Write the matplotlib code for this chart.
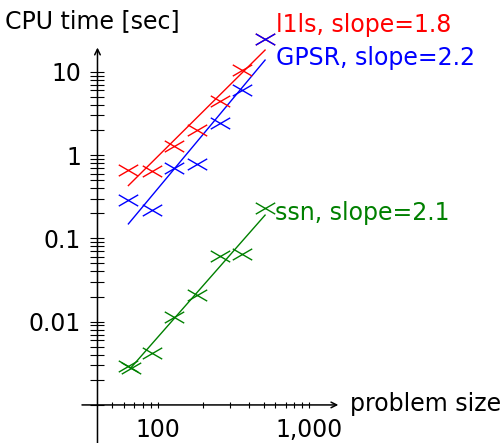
import matplotlib
matplotlib.use("Agg")
import matplotlib.pyplot as plt
import numpy as np
from matplotlib.path import Path
from matplotlib.ticker import FixedLocator, FixedFormatter, NullFormatter

sizes = [64, 91, 128, 181, 256, 362, 512]
l1ls_time = [0.67, 0.65, 1.29, 2.0, 4.4, 10.5, 25.0]
gpsr_time = [0.29, 0.22, 0.69, 0.78, 2.44, 6.0, 25.0]
ssn_sizes = [64, 67, 91, 128, 181, 256, 362, 512]
ssn_time = [0.0029, 0.0028, 0.0042, 0.0115, 0.021, 0.061, 0.064, 0.23]

# fitted power laws (end points of the fit lines)
fit_x = [64, 512]
l1ls_fit = [0.43, 18.2]
gpsr_fit = [0.149, 13.8]
ssn_fit_x = [66, 512]
ssn_fit = [0.00275, 0.19]

labels = ["l1ls, slope=1.8", "GPSR, slope=2.2", "ssn, slope=2.1"]
colors = ["#ff0000", "#0000ff", "#008000"]

x_major = [100, 1000]
x_major_labels = ["100", "1,000"]
x_minor = [50, 60, 70, 80, 90, 200, 300, 400, 500, 600, 700, 800, 900]
y_major = [1e-3, 1e-2, 1e-1, 1, 10]
y_major_labels = ["", "0.01", "0.1", "1", "10"]
y_minor = [m * d for d in [1e-3, 1e-2, 1e-1, 1] for m in range(2, 10)]

plt.rcParams["font.family"] = ["DejaVu Sans"]
FS = 17

# flattened "x" marker like the pgfplots one
xmark = Path([(-1, -0.58), (1, 0.58), (-1, 0.58), (1, -0.58)],
             [Path.MOVETO, Path.LINETO, Path.MOVETO, Path.LINETO])

fig = plt.figure(figsize=(5.01, 4.43), dpi=100)
ax = fig.add_axes([0, 0, 1, 1])
ax.set_xscale("log")
ax.set_yscale("log")
ax.set_xlim(10 ** 0.958, 10 ** 4.268)
ax.set_ylim(10 ** -3.457, 10 ** 1.861)
ax.patch.set_visible(False)

# axis lines through (40, 0.001)
for s in ["top", "right"]:
    ax.spines[s].set_visible(False)
ax.spines["left"].set_position(("data", 40))
ax.spines["bottom"].set_position(("data", 1e-3))
ax.spines["left"].set_color("none")
ax.spines["bottom"].set_color("none")

ax.annotate("", xy=(1560, 1e-3), xytext=(31.6, 1e-3),
            arrowprops=dict(arrowstyle="->", lw=1.1, color="black",
                            shrinkA=0, shrinkB=0, mutation_scale=10))
ax.annotate("", xy=(40, 19.5), xytext=(40, 10 ** -3.457),
            arrowprops=dict(arrowstyle="->", lw=1.1, color="black",
                            shrinkA=0, shrinkB=0, mutation_scale=10))

ax.xaxis.set_major_locator(FixedLocator(x_major))
ax.xaxis.set_major_formatter(FixedFormatter(x_major_labels))
ax.xaxis.set_minor_locator(FixedLocator(x_minor))
ax.xaxis.set_minor_formatter(NullFormatter())
ax.yaxis.set_major_locator(FixedLocator(y_major))
ax.yaxis.set_major_formatter(FixedFormatter(y_major_labels))
ax.yaxis.set_minor_locator(FixedLocator(y_minor))
ax.yaxis.set_minor_formatter(NullFormatter())

ax.tick_params(axis="x", which="both", direction="inout", length=5,
               width=0.8, labelsize=FS, pad=7)
ax.tick_params(axis="y", which="both", direction="inout", length=10,
               width=0.8, labelsize=FS, pad=7)

# fit lines
ax.plot(fit_x, l1ls_fit, color=colors[0], lw=1, clip_on=False)
ax.plot(fit_x, gpsr_fit, color=colors[1], lw=1, clip_on=False)
ax.plot(ssn_fit_x, ssn_fit, color=colors[2], lw=1, clip_on=False)

# measured points
ax.plot(sizes, l1ls_time, ls="none", marker=xmark, ms=14, mew=1,
        color=colors[0], clip_on=False)
ax.plot(sizes, gpsr_time, ls="none", marker=xmark, ms=14, mew=1,
        color=colors[1], clip_on=False)
ax.plot(ssn_sizes, ssn_time, ls="none", marker=xmark, ms=14, mew=1,
        color=colors[2], clip_on=False)

W, H = 501, 443
fig.text(276 / W, 1 - 25 / H, labels[0], color=colors[0], fontsize=FS,
         ha="left", va="center")
fig.text(276 / W, 1 - 58 / H, labels[1], color=colors[1], fontsize=FS,
         ha="left", va="center")
fig.text(275 / W, 1 - 213 / H, labels[2], color=colors[2], fontsize=FS,
         ha="left", va="center")

fig.text(5 / W, 1 - 21 / H, "CPU time [sec]", fontsize=FS, ha="left", va="center")
fig.text(350 / W, 1 - 404 / H, "problem size", fontsize=FS, ha="left", va="center")

fig.savefig("out.png", dpi=100)
